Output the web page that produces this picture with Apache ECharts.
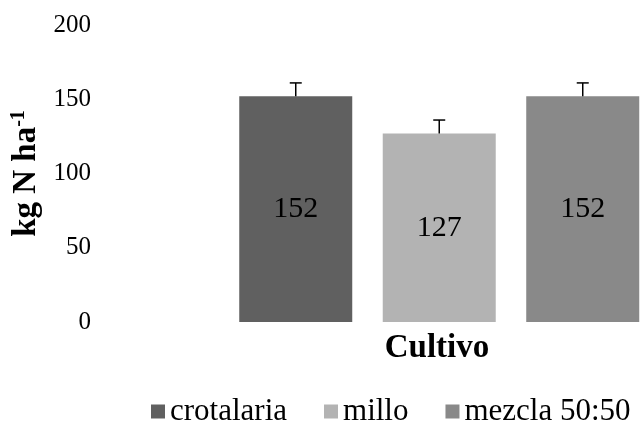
<!DOCTYPE html>
<html>
<head>
<meta charset="utf-8">
<script src="https://cdn.jsdelivr.net/npm/echarts@6/dist/echarts.min.js"></script>
<style>
  html, body { margin: 0; padding: 0; background: #fff; }
  #chart { width: 642px; height: 433px; }
</style>
</head>
<body>
<div id="chart"></div>
<script>
// Nitrogen supplied by each cover crop (kg N per hectare)
const cultivos = ['crotalaria', 'millo', 'mezcla 50:50'];
const nitrogeno = [152, 127, 152];
const errores = [9, 9, 9];
const colores = ['#606060', '#b3b3b3', '#898989'];
const yTicks = { min: 0, max: 200, step: 50 };
// crop slots along the horizontal axis (0, 1, 2); the view runs a bit past the last slot
const xRange = { min: -0.5, max: 2.413 };

const serif = 'Liberation Serif, Times New Roman, serif';

const chart = echarts.init(document.getElementById('chart'), null, { renderer: 'canvas' });

// one bar series per crop, each sitting on its own slot
const barSeries = cultivos.map((name, i) => ({
  name: name,
  type: 'bar',
  stack: 'n',
  barWidth: 113,
  data: [[i, nitrogeno[i]]],
  itemStyle: { color: colores[i] },
  label: {
    show: true,
    position: 'inside',
    color: '#000',
    fontFamily: serif,
    fontSize: 30,
    formatter: p => p.value[1]
  },
  emphasis: { disabled: true }
}));

// standard-error whiskers (upper only) with a short cap
const errorSeries = {
  type: 'custom',
  name: 'error',
  z: 5,
  data: cultivos.map((_, i) => [i, nitrogeno[i], errores[i]]),
  renderItem: function (params, api) {
    const i = api.value(0);
    const base = api.coord([i, api.value(1)]);
    const top = api.coord([i, api.value(1) + api.value(2)]);
    const half = 6;
    return {
      type: 'group',
      children: [
        { type: 'line', shape: { x1: base[0], y1: base[1], x2: top[0], y2: top[1] },
          style: { stroke: '#000', lineWidth: 1.5 } },
        { type: 'line', shape: { x1: top[0] - half, y1: top[1], x2: top[0] + half, y2: top[1] },
          style: { stroke: '#000', lineWidth: 1.5 } }
      ]
    };
  }
};

chart.setOption({
  animation: false,
  backgroundColor: '#fff',
  grid: { left: 224, right: 0, top: 25, bottom: 111, containLabel: false },
  legend: {
    data: cultivos,
    left: 146,
    top: 391,
    icon: 'rect',
    itemWidth: 14,
    itemHeight: 14,
    itemGap: 37,
    textStyle: { fontFamily: serif, fontSize: 31, color: '#000' }
  },
  xAxis: {
    type: 'value',
    min: xRange.min,
    max: xRange.max,
    name: 'Cultivo',
    nameLocation: 'middle',
    nameGap: 10,
    nameTextStyle: { fontFamily: serif, fontSize: 33, fontWeight: 'bold', color: '#000',
      verticalAlign: 'top', padding: [0, 0, 0, 8] },
    axisLine: { show: false },
    axisTick: { show: false },
    axisLabel: { show: false },
    splitLine: { show: false }
  },
  yAxis: {
    type: 'value',
    min: yTicks.min,
    max: yTicks.max,
    interval: yTicks.step,
    name: 'kg N ha{sup|-1}',
    nameLocation: 'middle',
    nameGap: 164,
    nameRotate: 90,
    nameTextStyle: {
      fontFamily: serif, fontSize: 33, fontWeight: 'bold', color: '#000',
      rich: {
        sup: { fontFamily: serif, fontSize: 20, fontWeight: 'bold', color: '#000',
          padding: [0, 0, 14, 0] }
      }
    },
    axisLine: { show: false },
    axisTick: { show: false },
    splitLine: { show: false },
    axisLabel: { fontFamily: serif, fontSize: 25, color: '#000', margin: 133 }
  },
  series: barSeries.concat([errorSeries])
});
</script>
</body>
</html>
